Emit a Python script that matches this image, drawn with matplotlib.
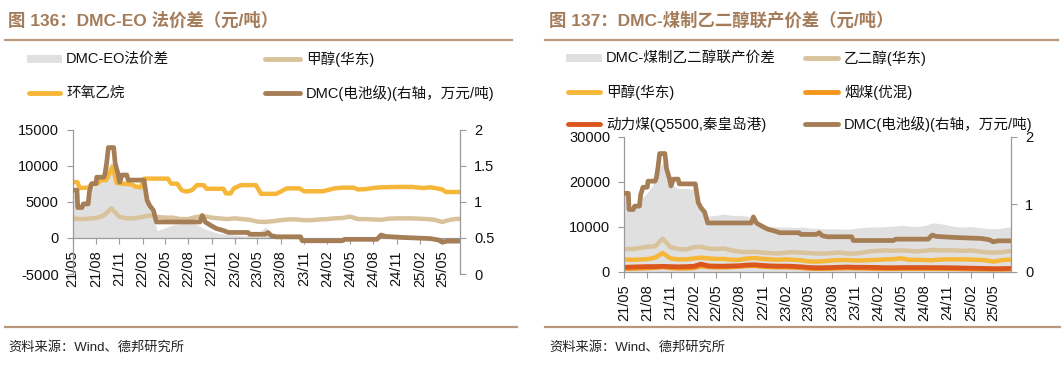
import pandas as pd
import matplotlib
matplotlib.use('Agg')
import matplotlib.pyplot as plt
import matplotlib.dates as mdates
from matplotlib.lines import Line2D
from matplotlib.patches import Rectangle

plt.rcParams['font.family'] = ['Liberation Sans', 'Noto Sans CJK SC']
plt.rcParams['axes.unicode_minus'] = False

# monthly grid (2021-05 .. 2025-07) plus last observation
month_dates = list(pd.date_range('2021-05-01', '2025-07-01', freq='MS')) + [pd.Timestamp('2025-07-10')]

# DMC 电池级 (万元/吨), shared by both charts
dmc_dates = ['2021-05-01', '2021-05-18', '2021-05-21', '2021-06-07', '2021-06-12', '2021-07-01',
             '2021-07-06', '2021-07-15', '2021-08-01', '2021-08-04', '2021-09-01', '2021-09-06',
             '2021-09-12', '2021-09-19', '2021-10-10', '2021-10-16', '2021-10-27', '2021-11-03',
             '2021-11-12', '2021-12-01', '2021-12-06', '2022-02-07', '2022-02-19', '2022-03-01',
             '2022-03-16', '2022-03-28', '2022-09-16', '2022-09-25', '2022-10-07', '2022-10-25',
             '2022-11-19', '2022-12-19', '2023-01-07', '2023-03-25', '2023-04-01', '2023-06-01',
             '2023-06-12', '2023-06-25', '2023-07-16', '2023-10-19', '2023-10-25', '2024-04-01',
             '2024-04-10', '2024-08-16', '2024-09-01', '2024-09-19', '2024-12-01', '2025-03-16',
             '2025-04-16', '2025-05-01', '2025-05-19', '2025-07-10']
dmc_price = [1.16, 1.16, 0.92, 0.92, 0.97, 0.97,
             1.14, 1.25, 1.25, 1.34, 1.34, 1.39,
             1.53, 1.75, 1.75, 1.53, 1.39, 1.27,
             1.37, 1.37, 1.30, 1.30, 1.02, 0.95,
             0.88, 0.72, 0.72, 0.81, 0.72, 0.68,
             0.63, 0.60, 0.575, 0.575, 0.55, 0.55,
             0.575, 0.53, 0.515, 0.515, 0.46, 0.46,
             0.48, 0.48, 0.54, 0.52, 0.505, 0.49,
             0.47, 0.44, 0.455, 0.455]

# 环氧乙烷 (元/吨)
eo_dates = ['2021-05-01', '2021-05-20', '2021-05-28', '2021-07-01', '2021-07-20', '2021-08-10',
            '2021-08-20', '2021-09-10', '2021-10-06', '2021-10-22', '2021-11-20', '2021-12-20',
            '2022-01-05', '2022-01-25', '2022-02-08', '2022-05-12', '2022-05-25', '2022-06-18',
            '2022-07-06', '2022-07-25', '2022-08-15', '2022-09-04', '2022-10-01', '2022-10-12',
            '2022-12-18', '2022-12-28', '2023-01-15', '2023-01-28', '2023-02-25', '2023-04-25',
            '2023-05-04', '2023-05-15', '2023-07-15', '2023-08-01', '2023-08-25', '2023-10-15',
            '2023-11-01', '2024-01-15', '2024-02-01', '2024-03-01', '2024-04-01', '2024-05-15',
            '2024-06-01', '2024-07-01', '2024-08-01', '2024-09-01', '2024-11-01', '2025-01-01',
            '2025-02-15', '2025-03-15', '2025-04-01', '2025-05-01', '2025-05-15', '2025-07-10']
eo_price = [7750, 7700, 6900, 6950, 7550, 7600,
            8000, 8000, 9850, 7600, 7500, 7400,
            7100, 7000, 8200, 8200, 7500, 7500,
            6600, 6400, 6600, 7300, 7300, 6800,
            6800, 6150, 6150, 6850, 7300, 7300,
            6800, 6100, 6100, 6400, 6850, 6850,
            6450, 6450, 6600, 6850, 6950, 6950,
            6700, 6750, 6900, 7000, 7050, 7050,
            6900, 7000, 6900, 6700, 6350, 6350]

# 甲醇(华东), monthly
methanol = [2700, 2600, 2650, 2750, 3100, 4100, 2900, 2700, 2700, 2900,
            3100, 2900, 2800, 2800, 2600, 2600, 2900, 3000, 2800, 2700,
            2600, 2700, 2600, 2500, 2250, 2200, 2300, 2450, 2550, 2550,
            2450, 2450, 2550, 2600, 2700, 2750, 2950, 2600, 2600, 2550,
            2500, 2650, 2700, 2700, 2700, 2650, 2600, 2500, 2200, 2500,
            2650, 2600]

# DMC-EO法价差, monthly
dmc_eo_spread = [6500, 4500, 5500, 7800, 9000, 10500, 7500, 7300, 7300, 7000,
                 4000, 1000, 1400, 1800, 2000, 2100, 1900, 1300, 900, 600,
                 500, 400, 300, 300, 600, 1500, 300, 0, -100, -100,
                 -400, -400, -500, -300, -300, -200, -300, -300, -300, -300,
                 0, -100, -100, -200, -200, -200, -300, -300, -600, -500,
                 -400, -400]

# DMC-煤制乙二醇联产价差, monthly
dmc_eg_spread = [17400, 13500, 15800, 17500, 20000, 24500, 19500, 18500, 18500, 18300,
                 14500, 12300, 12500, 12800, 12500, 12500, 12300, 11000, 10300, 10000,
                 9900, 9900, 9800, 9900, 9700, 9600, 9500, 9500, 9500, 9400,
                 9600, 9800, 9900, 9900, 10000, 10100, 10300, 10100, 10000, 10200,
                 10800, 10700, 10300, 10000, 9900, 10000, 9800, 9600, 9500, 9600,
                 9900, 9900]

# 乙二醇(华东), monthly
eg_price = [5000, 5000, 5200, 5500, 5600, 7300, 5400, 5000, 4900, 5400,
            5500, 5100, 5000, 5100, 4700, 4400, 4300, 4400, 4200, 4100,
            4000, 4200, 4300, 4200, 4100, 4000, 4000, 4100, 4200, 4000,
            4000, 4200, 4500, 4600, 4700, 4600, 4700, 4600, 4500, 4600,
            4800, 4700, 4700, 4700, 4600, 4700, 4500, 4300, 4200, 4300,
            4500, 4500]

# 烟煤(优混), monthly
bit_coal = [600, 650, 700, 750, 850, 1000, 800, 700, 700, 800,
            1200, 1000, 950, 950, 1000, 1100, 1250, 1250, 1100, 1000,
            950, 950, 900, 800, 650, 600, 620, 650, 700, 750,
            700, 700, 650, 620, 600, 600, 620, 620, 620, 620,
            620, 600, 600, 580, 550, 520, 500, 480, 450, 460,
            480, 480]

# 动力煤(Q5500,秦皇岛港), monthly
steam_coal = [950, 1000, 1050, 1100, 1100, 1150, 1100, 1050, 1100, 1150,
              1650, 1250, 1200, 1200, 1250, 1300, 1450, 1500, 1350, 1250,
              1200, 1200, 1150, 1050, 900, 850, 850, 900, 950, 1000,
              950, 950, 920, 900, 850, 850, 880, 880, 880, 880,
              870, 860, 850, 820, 780, 740, 720, 680, 640, 650,
              680, 680]

dmc_dates = pd.to_datetime(dmc_dates)
eo_dates = pd.to_datetime(eo_dates)

c_gray = '#e0e0e0'
c_tan = '#d9c39d'
c_yellow = '#f6b637'
c_brown = '#a67e56'
c_orange = '#f5961c'
c_red = '#da561d'
c_title = '#a47c5a'
c_rule = '#b8977a'
c_axis = '#9a9a9a'

W, H = 1063, 368
fig = plt.figure(figsize=(W / 100, H / 100), dpi=100)


def fx(px):
    return px / W


def fy(py):
    return 1 - py / H


x_start, x_end = pd.Timestamp('2021-05-01'), pd.Timestamp('2025-07-10')


def style_axes(ax, axr, xaxis_at_zero):
    ax.set_xlim(x_start, x_end)
    ax.xaxis.set_major_locator(mdates.MonthLocator(bymonth=[2, 5, 8, 11]))
    ax.xaxis.set_major_formatter(mdates.DateFormatter('%y/%m'))
    for s in ['top', 'right']:
        ax.spines[s].set_visible(False)
    for s in ['top', 'left', 'bottom']:
        axr.spines[s].set_visible(False)
    for s in ['left', 'bottom']:
        ax.spines[s].set_color(c_axis)
        ax.spines[s].set_linewidth(0.9)
    axr.spines['right'].set_color(c_axis)
    axr.spines['right'].set_linewidth(0.9)
    if xaxis_at_zero:
        ax.spines['bottom'].set_position(('data', 0))
    ax.tick_params(axis='x', direction='out', length=4, width=0.8, color=c_axis,
                   labelsize=10.5, labelrotation=90, pad=5, labelcolor='#111111')
    ax.tick_params(axis='y', direction='out', length=4, width=0.8, color=c_axis,
                   labelsize=10.5, pad=6, labelcolor='#111111')
    axr.tick_params(axis='y', direction='out', length=4, width=0.8, color=c_axis,
                    labelsize=10.5, pad=6, labelcolor='#111111')


# ---- left chart: DMC-EO ----
ax1 = fig.add_axes([fx(72.7), fy(274), fx(460) - fx(72.7), (274 - 129.5) / H])
ax1.fill_between(month_dates, 0, dmc_eo_spread, color=c_gray, lw=0)
ax1.plot(month_dates, methanol, color=c_tan, lw=3.2)
ax1.plot(eo_dates, eo_price, color=c_yellow, lw=3.2)
ax1.set_ylim(-5000, 15000)
ax1.set_yticks([-5000, 0, 5000, 10000, 15000])
ax1r = ax1.twinx()
ax1r.plot(dmc_dates, dmc_price, color=c_brown, lw=3.4)
ax1r.set_ylim(0, 2)
ax1r.set_yticks([0, 0.5, 1, 1.5, 2])
ax1r.set_yticklabels(['0', '0.5', '1', '1.5', '2'])
style_axes(ax1, ax1r, True)

# ---- right chart: DMC-煤制乙二醇 ----
ax2 = fig.add_axes([fx(624), fy(271.5), fx(1011) - fx(624), (271.5 - 136.7) / H])
ax2.fill_between(month_dates, 0, dmc_eg_spread, color=c_gray, lw=0)
ax2.plot(month_dates, eg_price, color=c_tan, lw=3.2)
ax2.plot(month_dates, methanol, color=c_yellow, lw=3.2)
ax2.plot(month_dates, bit_coal, color=c_orange, lw=3.2)
ax2.plot(month_dates, steam_coal, color=c_red, lw=3.4)
ax2.set_ylim(0, 30000)
ax2.set_yticks([0, 10000, 20000, 30000])
ax2r = ax2.twinx()
ax2r.plot(dmc_dates, dmc_price, color=c_brown, lw=3.4)
ax2r.set_ylim(0, 2)
ax2r.set_yticks([0, 1, 2])
ax2r.set_yticklabels(['0', '1', '2'])
style_axes(ax2, ax2r, False)


# ---- titles, rules, legends, footers ----
def rule(x0, x1, y):
    fig.add_artist(Line2D([fx(x0), fx(x1)], [fy(y), fy(y)], transform=fig.transFigure,
                          color=c_rule, lw=1.6))


def legend_item(x0, x1, y, text, color, filled=False):
    if filled:
        fig.add_artist(Rectangle((fx(x0), fy(y + 4)), fx(x1) - fx(x0), 8 / H,
                                 transform=fig.transFigure, color=color, lw=0))
    else:
        fig.add_artist(Line2D([fx(x0 + 2), fx(x1 - 2)], [fy(y), fy(y)], transform=fig.transFigure,
                              color=color, lw=3.5, solid_capstyle='round'))
    fig.text(fx(x1 + 4), fy(y), text, ha='left', va='center', fontsize=10.5, color='#111111')


fig.text(fx(8), fy(20), '图 136：DMC-EO 法价差（元/吨）', fontsize=12.5, fontweight='bold',
         color=c_title, ha='left', va='center')
fig.text(fx(549), fy(20), '图 137：DMC-煤制乙二醇联产价差（元/吨）', fontsize=12.5, fontweight='bold',
         color=c_title, ha='left', va='center')
rule(5, 512, 40)
rule(545, 1058, 40)
rule(5, 517, 327)
rule(545, 1060, 327)

legend_item(27, 62, 59, 'DMC-EO法价差', c_gray, filled=True)
legend_item(263, 302, 59, '甲醇(华东)', c_tan)
legend_item(27, 62, 93, '环氧乙烷', c_yellow)
legend_item(263, 302, 93, 'DMC(电池级)(右轴，万元/吨)', c_brown)

legend_item(566, 602, 58, 'DMC-煤制乙二醇联产价差', c_gray, filled=True)
legend_item(803, 840, 58, '乙二醇(华东)', c_tan)
legend_item(566, 602, 92, '甲醇(华东)', c_yellow)
legend_item(803, 840, 92, '烟煤(优混)', c_orange)
legend_item(566, 602, 124, '动力煤(Q5500,秦皇岛港)', c_red)
legend_item(803, 840, 124, 'DMC(电池级)(右轴，万元/吨)', c_brown)

fig.text(fx(8), fy(347), '资料来源：Wind、德邦研究所', fontsize=9.5, color='#222222',
         ha='left', va='center')
fig.text(fx(549), fy(347), '资料来源：Wind、德邦研究所', fontsize=9.5, color='#222222',
         ha='left', va='center')

fig.savefig('out.png', dpi=100)
